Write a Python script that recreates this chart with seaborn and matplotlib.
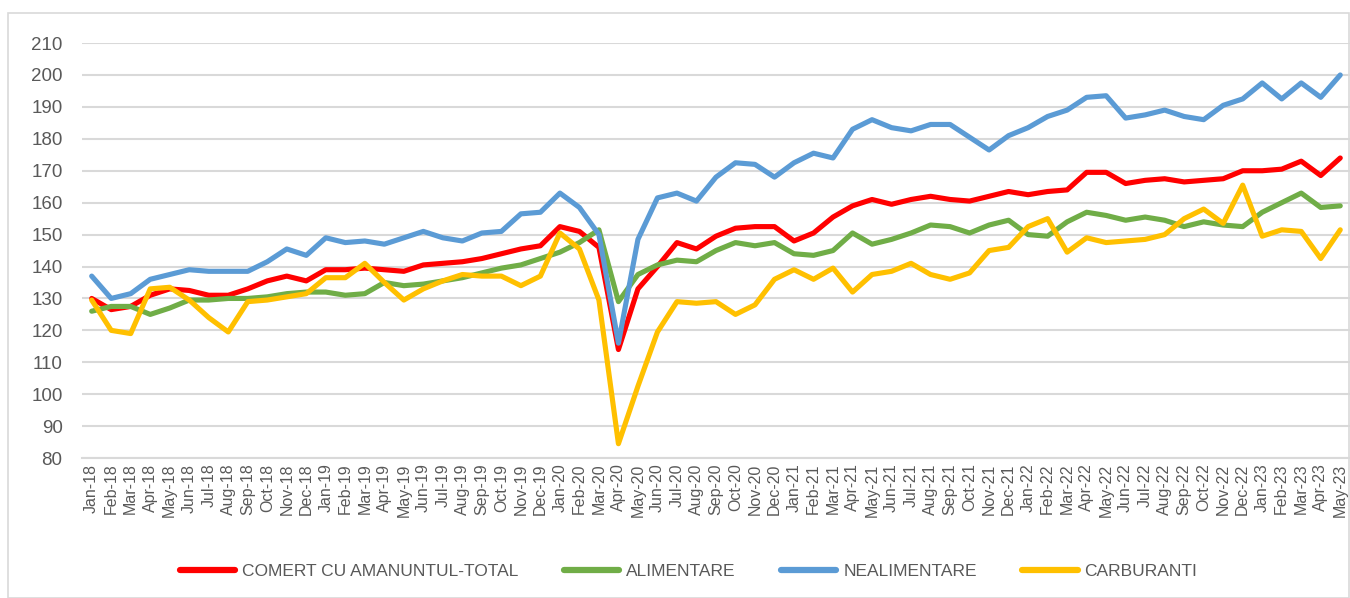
import numpy as np
import pandas as pd
import matplotlib
matplotlib.use("Agg")
import matplotlib.pyplot as plt
import seaborn as sns
from matplotlib.patches import Rectangle

# monthly labels Jan-18 .. May-23
months = ["Jan", "Feb", "Mar", "Apr", "May", "Jun", "Jul", "Aug", "Sep", "Oct", "Nov", "Dec"]
labels = [f"{m}-{y}" for y in range(18, 24) for m in months][:65]

total = [130, 126.5, 127.5, 131, 133, 132.5, 131, 131, 133, 135.5, 137, 135.5,
         139, 139, 139.5, 139, 138.5, 140.5, 141, 141.5, 142.5, 144, 145.5, 146.5,
         152.5, 151, 146, 114, 133, 140, 147.5, 145.5, 149.5, 152, 152.5, 152.5,
         148, 150.5, 155.5, 159, 161, 159.5, 161, 162, 161, 160.5, 162, 163.5,
         162.5, 163.5, 164, 169.5, 169.5, 166, 167, 167.5, 166.5, 167, 167.5, 170,
         170, 170.5, 173, 168.5, 174]
alimentare = [126, 127.5, 127.5, 125, 127, 129.5, 129.5, 130, 130, 130.5, 131.5, 132,
              132, 131, 131.5, 135, 134, 134.5, 135.5, 136.5, 138, 139.5, 140.5, 142.5,
              144.5, 147.5, 151.5, 129, 137.5, 140.5, 142, 141.5, 145, 147.5, 146.5, 147.5,
              144, 143.5, 145, 150.5, 147, 148.5, 150.5, 153, 152.5, 150.5, 153, 154.5,
              150, 149.5, 154, 157, 156, 154.5, 155.5, 154.5, 152.5, 154, 153, 152.5,
              157, 160, 163, 158.5, 159]
nealimentare = [137, 130, 131.5, 136, 137.5, 139, 138.5, 138.5, 138.5, 141.5, 145.5, 143.5,
                149, 147.5, 148, 147, 149, 151, 149, 148, 150.5, 151, 156.5, 157,
                163, 158.5, 150, 116, 148.5, 161.5, 163, 160.5, 168, 172.5, 172, 168,
                172.5, 175.5, 174, 183, 186, 183.5, 182.5, 184.5, 184.5, 180.5, 176.5, 181,
                183.5, 187, 189, 193, 193.5, 186.5, 187.5, 189, 187, 186, 190.5, 192.5,
                197.5, 192.5, 197.5, 193, 200]
carburanti = [129.5, 120, 119, 133, 133.5, 129.5, 124, 119.5, 129, 129.5, 130.5, 131.5,
              136.5, 136.5, 141, 135, 129.5, 133, 135.5, 137.5, 137, 137, 134, 137,
              150.5, 145.5, 129.5, 84.5, 102.5, 119.5, 129, 128.5, 129, 125, 128, 136,
              139, 136, 139.5, 132, 137.5, 138.5, 141, 137.5, 136, 138, 145, 146,
              152.5, 155, 144.5, 149, 147.5, 148, 148.5, 150, 155, 158, 153.5, 165.5,
              149.5, 151.5, 151, 142.5, 151.5]

series_names = ["COMERT CU AMANUNTUL-TOTAL", "ALIMENTARE", "NEALIMENTARE", "CARBURANTI"]
colors = ["#FF0000", "#70AD47", "#5B9BD5", "#FFC000"]

df = pd.DataFrame({"idx": np.arange(len(labels)), "label": labels,
                   series_names[0]: total, series_names[1]: alimentare,
                   series_names[2]: nealimentare, series_names[3]: carburanti})
long = df.melt(id_vars=["idx", "label"], var_name="series", value_name="value")

sns.set_style("white")
plt.rcParams["font.family"] = ["Liberation Sans", "DejaVu Sans"]

fig = plt.figure(figsize=(13.5, 5.98), dpi=100)
ax = fig.add_axes([0.0607, 0.234, 0.9393, 0.694])

sns.lineplot(data=long, x="idx", y="value", hue="series", hue_order=series_names,
             palette=colors, linewidth=3.7, ax=ax, legend=False)

ax.set_xlim(-0.5, len(labels) - 0.5)
ax.set_ylim(80, 210)
ax.set_yticks(np.arange(80, 211, 10))
ax.yaxis.grid(True, color="#D9D9D9", linewidth=1.5)
ax.set_axisbelow(True)
ax.set_xticks(np.arange(len(labels)))
ax.set_xticklabels(labels, rotation=90, fontsize=11.5, color="#595959")
ax.set_xticks(np.arange(len(labels) + 1) - 0.5, minor=True)
ax.tick_params(axis="x", which="major", length=0, pad=4)
ax.tick_params(axis="x", which="minor", length=5, color="#D9D9D9", width=1.2)
ax.tick_params(axis="y", length=0, labelsize=13.5, colors="#595959", pad=14)
ax.set_xlabel("")
ax.set_ylabel("")
for s in ["top", "right", "left"]:
    ax.spines[s].set_visible(False)
ax.spines["bottom"].set_color("#D9D9D9")
ax.spines["bottom"].set_linewidth(1.5)

handles = [plt.Line2D([], [], color=c, linewidth=4.5, solid_capstyle="round") for c in colors]
fig.legend(handles, series_names, loc="center", bbox_to_anchor=(0.51, 0.045), ncol=4,
           frameon=False, fontsize=12.5, handlelength=3.2, columnspacing=2.6,
           handletextpad=0.4, labelcolor="#595959")

fig.patches.append(Rectangle((0.006, 0.0), 0.993, 0.978, transform=fig.transFigure,
                             fill=False, edgecolor="#D9D9D9", linewidth=1.2))

fig.savefig("out.png", dpi=100)
